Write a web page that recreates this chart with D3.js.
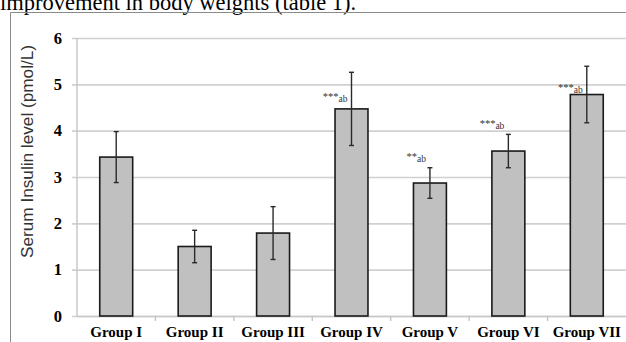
<!DOCTYPE html>
<html><head><meta charset="utf-8">
<script src="https://cdn.jsdelivr.net/npm/d3@7"></script>
<style>body{margin:0;background:#fff;}svg{display:block;}</style>
</head><body>
<script>
const categories = ["Group I","Group II","Group III","Group IV","Group V","Group VI","Group VII"];
const means = [3.43, 1.50, 1.79, 4.47, 2.87, 3.56, 4.78];
const errors = [0.55, 0.35, 0.57, 0.79, 0.33, 0.36, 0.61];
const stars = ["", "", "", "***", "**", "***", "***"];
const letters = ["", "", "", "ab", "ab", "ab", "ab"];
const labelValues = [null, null, null, 4.67, 3.37, 4.08, 4.86];
const yTicks = [0,1,2,3,4,5,6];

const W = 626, H = 342;
const svg = d3.select("body").append("svg").attr("width", W).attr("height", H);

// caption text from the page above
svg.append("text").attr("x", 0).attr("y", 9.5)
  .attr("font-family", "Liberation Serif, serif").attr("font-size", 22.5)
  .attr("fill", "#000").text("improvement in body weights (table 1).");

// frame
svg.append("path").attr("d", `M10.5,${H} V12.5 H${W}`)
  .attr("fill", "none").attr("stroke", "#8a8a8a").attr("stroke-width", 1);

const x0 = 77, x1 = 626, yTop = 38, yBot = 316;
const x = d3.scaleBand().domain(categories).range([x0, x1]).paddingInner(0.58).paddingOuter(0.29);
const xb = d3.scaleBand().domain(categories).range([x0, x1]).padding(0);
const y = d3.scaleLinear().domain([0, 6]).range([yBot, yTop]);

// gridlines + y axis
const yAxis = d3.axisLeft(y).tickValues(yTicks).tickSize(x1 - x0 + 5).tickFormat(d3.format("d")).tickPadding(10);
const gy = svg.append("g").attr("transform", `translate(${x1},0)`).call(yAxis);
gy.select(".domain").remove();
gy.selectAll(".tick line").attr("stroke", "#d0d0d0").attr("stroke-width", 1.7);
gy.selectAll(".tick text").attr("font-family", "Liberation Serif, serif").attr("font-weight", "bold")
  .attr("font-size", 16.5).attr("fill", "#000");

// y axis line
svg.append("line").attr("x1", x0).attr("x2", x0).attr("y1", yTop).attr("y2", yBot)
  .attr("stroke", "#c8c8c8").attr("stroke-width", 1.5);

// x axis
const xAxis = d3.axisBottom(xb).tickSize(0).tickPadding(10);
const gx = svg.append("g").attr("transform", `translate(0,${yBot})`).call(xAxis);
gx.select(".domain").attr("stroke", "#c8c8c8").attr("stroke-width", 1.5);
gx.selectAll(".tick text").attr("font-family", "Liberation Serif, serif").attr("font-weight", "bold")
  .attr("font-size", 15).attr("fill", "#000");
// boundary ticks
svg.append("g").selectAll("line").data(categories.slice(1)).join("line")
  .attr("x1", d => xb(d)).attr("x2", d => xb(d)).attr("y1", yBot).attr("y2", yBot + 5)
  .attr("stroke", "#c0c0c0").attr("stroke-width", 1.3);

// bars
svg.append("g").selectAll("rect").data(categories).join("rect")
  .attr("x", d => x(d)).attr("width", x.bandwidth())
  .attr("y", (d, i) => y(means[i])).attr("height", (d, i) => yBot - y(means[i]))
  .attr("fill", "#c0c0c0").attr("stroke", "#1a1a1a").attr("stroke-width", 1.6);

// error bars
const eg = svg.append("g").attr("stroke", "#2a2a2a").attr("stroke-width", 1.4);
categories.forEach((c, i) => {
  const cx = x(c) + x.bandwidth() / 2;
  const t = y(means[i] + errors[i]), b = y(means[i] - errors[i]);
  eg.append("line").attr("x1", cx).attr("x2", cx).attr("y1", t).attr("y2", b);
  eg.append("line").attr("x1", cx - 2.5).attr("x2", cx + 2.5).attr("y1", t).attr("y2", t);
  eg.append("line").attr("x1", cx - 2.5).attr("x2", cx + 2.5).attr("y1", b).attr("y2", b);
});

// significance labels
categories.forEach((c, i) => {
  if (labelValues[i] == null) return;
  const cx = x(c) + x.bandwidth() / 2;
  const t = svg.append("text").attr("x", cx - 4).attr("y", y(labelValues[i]))
    .attr("text-anchor", "end").attr("font-family", "Liberation Serif, serif")
    .attr("font-size", 10.5).attr("fill", "#333");
  t.append("tspan").text(stars[i]);
  t.append("tspan").attr("dy", 2).attr("font-size", 9.5).text(letters[i]);
});

// y title
svg.append("text").attr("transform", `translate(33,151.5) rotate(-90)`)
  .attr("text-anchor", "middle").attr("font-family", "Liberation Sans, Arial, sans-serif")
  .attr("font-size", 17.2).attr("fill", "#333").text("Serum Insulin level (pmol/L)");
</script>
</body></html>
